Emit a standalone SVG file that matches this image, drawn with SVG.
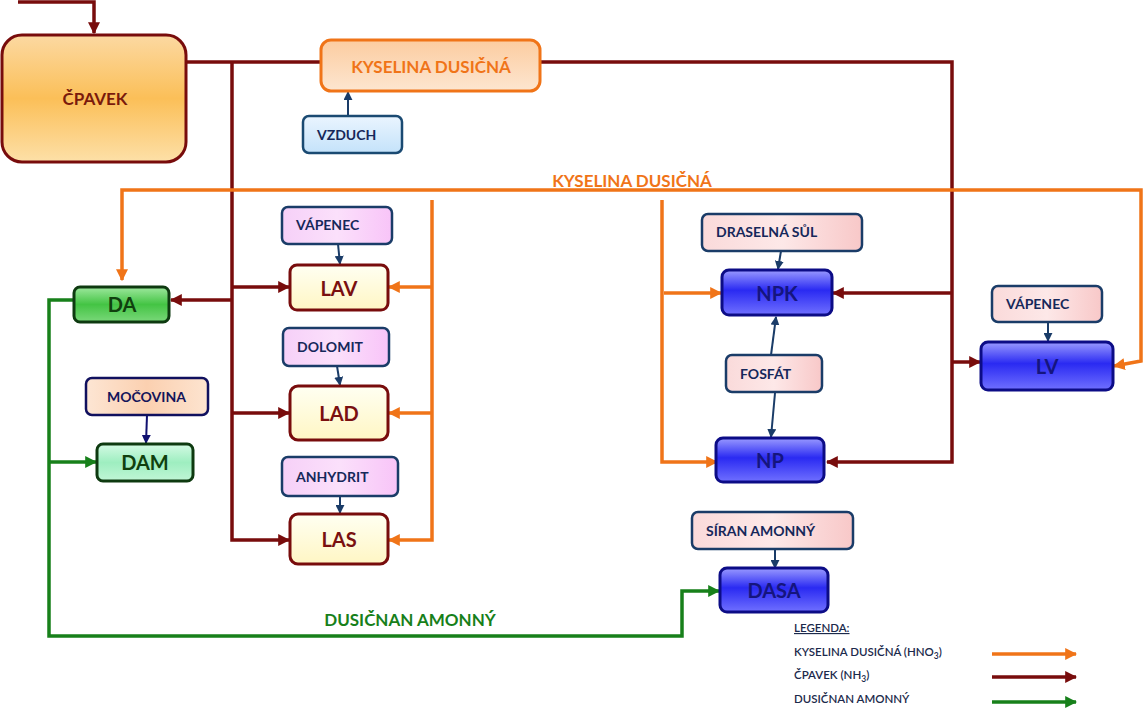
<svg xmlns="http://www.w3.org/2000/svg" width="1144" height="715" viewBox="0 0 1144 715">
<defs>
<style>
.t{font-family:Lato,"Liberation Sans",sans-serif;font-weight:bold;}
.main{font-size:20px;text-anchor:middle;}
.in{font-size:14px;fill:#16285a;}
.leg{font-size:11.5px;fill:#1c2a4c;font-weight:600;}
.cr{fill:none;stroke:#780c0c;stroke-width:3.5;}
.co{fill:none;stroke:#f07418;stroke-width:3.5;}
.cg{fill:none;stroke:#17801a;stroke-width:3.5;}
.cn{fill:none;stroke:#1a3c68;stroke-width:2;}
.big{stroke-width:3;}
.inb{stroke-width:2.5;}
</style>
<linearGradient id="gOr" x1="0" y1="0" x2="0" y2="1"><stop offset="0" stop-color="#fcd9a2"/><stop offset="0.5" stop-color="#fbbf58"/><stop offset="1" stop-color="#fde0a8"/></linearGradient>
<linearGradient id="gKy" x1="0" y1="0" x2="0" y2="1"><stop offset="0" stop-color="#fccca0"/><stop offset="1" stop-color="#fde6d0"/></linearGradient>
<linearGradient id="gSky" x1="0" y1="0" x2="0" y2="1"><stop offset="0" stop-color="#eaf5ff"/><stop offset="1" stop-color="#c4e2fa"/></linearGradient>
<linearGradient id="gYel" x1="0" y1="0" x2="0" y2="1"><stop offset="0" stop-color="#fffff2"/><stop offset="1" stop-color="#fff6c4"/></linearGradient>
<linearGradient id="gPink" x1="0" y1="0" x2="1" y2="0"><stop offset="0" stop-color="#f6d0f8"/><stop offset="0.5" stop-color="#fbe0fb"/><stop offset="1" stop-color="#f8c4f8"/></linearGradient>
<linearGradient id="gSal" x1="0" y1="0" x2="1" y2="0"><stop offset="0" stop-color="#fadada"/><stop offset="0.5" stop-color="#fde8e8"/><stop offset="1" stop-color="#f8c8c8"/></linearGradient>
<linearGradient id="gPeach" x1="0" y1="0" x2="1" y2="0"><stop offset="0" stop-color="#fde6d4"/><stop offset="0.5" stop-color="#fbd0b0"/><stop offset="1" stop-color="#fde4d0"/></linearGradient>
<linearGradient id="gGr" x1="0" y1="0" x2="0" y2="1"><stop offset="0" stop-color="#9ee89e"/><stop offset="0.5" stop-color="#44c444"/><stop offset="1" stop-color="#7ad87a"/></linearGradient>
<linearGradient id="gMint" x1="0" y1="0" x2="0" y2="1"><stop offset="0" stop-color="#d4fae4"/><stop offset="0.5" stop-color="#9eeec0"/><stop offset="1" stop-color="#c0f6d6"/></linearGradient>
<linearGradient id="gBl" x1="0" y1="0" x2="0" y2="1"><stop offset="0" stop-color="#9a9aff"/><stop offset="0.45" stop-color="#2a2af2"/><stop offset="1" stop-color="#7070ff"/></linearGradient>
<marker id="aR" viewBox="0 0 10 10" refX="9" refY="5" markerWidth="12" markerHeight="12" markerUnits="userSpaceOnUse" orient="auto"><path d="M0,0 L10,5 L0,10 z" fill="#780c0c"/></marker>
<marker id="aO" viewBox="0 0 10 10" refX="9" refY="5" markerWidth="12" markerHeight="12" markerUnits="userSpaceOnUse" orient="auto"><path d="M0,0 L10,5 L0,10 z" fill="#f07418"/></marker>
<marker id="aG" viewBox="0 0 10 10" refX="9" refY="5" markerWidth="12" markerHeight="12" markerUnits="userSpaceOnUse" orient="auto"><path d="M0,0 L10,5 L0,10 z" fill="#17801a"/></marker>
<marker id="aN" viewBox="0 0 10 10" refX="9" refY="5" markerWidth="9" markerHeight="9" markerUnits="userSpaceOnUse" orient="auto"><path d="M0,0 L10,5 L0,10 z" fill="#1a3c68"/></marker>
<marker id="aNv" viewBox="0 0 10 10" refX="9" refY="5" markerWidth="9" markerHeight="9" markerUnits="userSpaceOnUse" orient="auto"><path d="M0,0 L10,5 L0,10 z" fill="#101070"/></marker>
</defs>
<rect width="1144" height="715" fill="#ffffff"/>

<g id="connectors">
<!-- ammonia (dark red) -->
<path class="cr" d="M18,2 H94 V33" marker-end="url(#aR)"/>
<path class="cr" d="M186,62 H321"/>
<path class="cr" d="M540,62 H952 V462 H827" marker-end="url(#aR)"/>
<path class="cr" d="M232,62 V540 H289" marker-end="url(#aR)"/>
<path class="cr" d="M232,287 H289" marker-end="url(#aR)"/>
<path class="cr" d="M232,413 H289" marker-end="url(#aR)"/>
<path class="cr" d="M232,300 H171" marker-end="url(#aR)"/>
<path class="cr" d="M952,293 H833" marker-end="url(#aR)"/>
<path class="cr" d="M952,362 H980" marker-end="url(#aR)"/>
<!-- nitric acid (orange) -->
<path class="co" d="M632,190 H122 V280" marker-end="url(#aO)"/>
<path class="co" d="M632,190 H1141 V361 L1114,366" marker-end="url(#aO)"/>
<path class="co" d="M432,200 V540 H389" marker-end="url(#aO)"/>
<path class="co" d="M432,287 H389" marker-end="url(#aO)"/>
<path class="co" d="M432,413 H389" marker-end="url(#aO)"/>
<path class="co" d="M662,200 V462 H717" marker-end="url(#aO)"/>
<path class="co" d="M664,293 H721" marker-end="url(#aO)"/>
<!-- ammonium nitrate (green) -->
<path class="cg" d="M74,300 H49 V636 H682 V591 H719" marker-end="url(#aG)"/>
<path class="cg" d="M49,462 H96" marker-end="url(#aG)"/>
<!-- raw material inputs -->
<path class="cn" d="M348,116 V92" marker-end="url(#aN)"/>
<path class="cn" d="M338,244 L340,264" marker-end="url(#aN)"/>
<path class="cn" d="M337,366 L340,385" marker-end="url(#aN)"/>
<path class="cn" d="M340,496 V513" marker-end="url(#aN)"/>
<path class="cn" d="M147,415 L146,443" stroke="#101070" style="stroke:#101070" marker-end="url(#aNv)"/>
<path class="cn" d="M781,251 L778,269" marker-end="url(#aN)"/>
<path class="cn" d="M771,355 L776,317" marker-end="url(#aN)"/>
<path class="cn" d="M775,393 L771,437" marker-end="url(#aN)"/>
<path class="cn" d="M1048,322 V341" marker-end="url(#aN)"/>
<path class="cn" d="M775,549 V568" marker-end="url(#aN)"/>
<!-- flow labels -->
<text class="t" x="632" y="187" font-size="17" fill="#f07418" text-anchor="middle">KYSELINA DUSIČNÁ</text>
<text class="t" x="410" y="626" font-size="17" fill="#17801a" text-anchor="middle">DUSIČNAN AMONNÝ</text>
</g>

<g id="cpavek">
<rect x="2" y="35" width="184" height="127" rx="20" fill="url(#gOr)" stroke="#780c0c" stroke-width="3"/>
<text class="t" x="95" y="105" font-size="17" fill="#7a1a0c" text-anchor="middle">ČPAVEK</text>
</g>
<g id="kyselina">
<rect x="321" y="40" width="219" height="51" rx="10" fill="url(#gKy)" stroke="#f07418" stroke-width="3"/>
<text class="t" x="431" y="73" font-size="17" fill="#f07418" text-anchor="middle">KYSELINA DUSIČNÁ</text>
</g>
<g id="vzduch">
<rect x="303" y="116" width="99" height="37" rx="6" fill="url(#gSky)" stroke="#1a4a72" stroke-width="2.5"/>
<text class="t in" x="317" y="140">VZDUCH</text>
</g>

<g id="da">
<rect x="74" y="287" width="95" height="35" rx="6" fill="url(#gGr)" stroke="#0e3a10" stroke-width="3"/>
<text class="t main" x="122" y="312" fill="#10400e">DA</text>
</g>
<g id="mocovina">
<rect x="86" y="378" width="122" height="37" rx="6" fill="url(#gPeach)" stroke="#10105e" stroke-width="2.5"/>
<text class="t in" x="107" y="402" fill="#14145a" style="fill:#14145a">MOČOVINA</text>
</g>
<g id="dam">
<rect x="97" y="444" width="96" height="37" rx="6" fill="url(#gMint)" stroke="#0e3a10" stroke-width="3"/>
<text class="t main" x="145" y="470" fill="#10400e">DAM</text>
</g>

<g id="vapenec1">
<rect x="282" y="207" width="110" height="37" rx="6" fill="url(#gPink)" stroke="#1a3c68" stroke-width="2.5"/>
<text class="t in" x="296" y="230">VÁPENEC</text>
</g>
<g id="lav">
<rect x="290" y="265" width="98" height="45" rx="7" fill="url(#gYel)" stroke="#780c0c" stroke-width="3"/>
<text class="t main" x="339" y="296" fill="#7a1010" font-size="21">LAV</text>
</g>
<g id="dolomit">
<rect x="283" y="328" width="106" height="38" rx="6" fill="url(#gPink)" stroke="#1a3c68" stroke-width="2.5"/>
<text class="t in" x="297" y="352">DOLOMIT</text>
</g>
<g id="lad">
<rect x="290" y="386" width="98" height="54" rx="8" fill="url(#gYel)" stroke="#780c0c" stroke-width="3"/>
<text class="t main" x="339" y="421" fill="#7a1010" font-size="21">LAD</text>
</g>
<g id="anhydrit">
<rect x="282" y="457" width="116" height="39" rx="6" fill="url(#gPink)" stroke="#1a3c68" stroke-width="2.5"/>
<text class="t in" x="296" y="482">ANHYDRIT</text>
</g>
<g id="las">
<rect x="290" y="514" width="98" height="50" rx="8" fill="url(#gYel)" stroke="#780c0c" stroke-width="3"/>
<text class="t main" x="339" y="547" fill="#7a1010" font-size="21">LAS</text>
</g>

<g id="draselna">
<rect x="702" y="214" width="160" height="37" rx="6" fill="url(#gSal)" stroke="#1a3c68" stroke-width="2.5"/>
<text class="t in" x="716" y="237">DRASELNÁ SŮL</text>
</g>
<g id="npk">
<rect x="722" y="270" width="110" height="45" rx="7" fill="url(#gBl)" stroke="#0c0c86" stroke-width="3"/>
<text class="t main" x="777" y="301" fill="#15157e">NPK</text>
</g>
<g id="fosfat">
<rect x="726" y="355" width="96" height="37" rx="6" fill="url(#gSal)" stroke="#1a3c68" stroke-width="2.5"/>
<text class="t in" x="740" y="379">FOSFÁT</text>
</g>
<g id="np">
<rect x="716" y="438" width="108" height="44" rx="7" fill="url(#gBl)" stroke="#0c0c86" stroke-width="3"/>
<text class="t main" x="770" y="468" fill="#15157e">NP</text>
</g>
<g id="vapenec2">
<rect x="992" y="286" width="110" height="36" rx="6" fill="url(#gSal)" stroke="#1a3c68" stroke-width="2.5"/>
<text class="t in" x="1006" y="309">VÁPENEC</text>
</g>
<g id="lv">
<rect x="981" y="342" width="132" height="48" rx="7" fill="url(#gBl)" stroke="#0c0c86" stroke-width="3"/>
<text class="t main" x="1047" y="374" fill="#15157e">LV</text>
</g>
<g id="siran">
<rect x="692" y="512" width="161" height="37" rx="6" fill="url(#gSal)" stroke="#1a3c68" stroke-width="2.5"/>
<text class="t in" x="706" y="536">SÍRAN AMONNÝ</text>
</g>
<g id="dasa">
<rect x="720" y="568" width="108" height="44" rx="7" fill="url(#gBl)" stroke="#0c0c86" stroke-width="3"/>
<text class="t main" x="774" y="598" fill="#15157e">DASA</text>
</g>

<g id="legend">
<text class="t leg" x="794" y="632" text-decoration="underline">LEGENDA:</text>
<text class="t leg" x="794" y="656">KYSELINA DUSIČNÁ  (HNO<tspan font-size="8.5" dy="3">3</tspan><tspan dy="-3">)</tspan></text>
<text class="t leg" x="794" y="679">ČPAVEK (NH<tspan font-size="8.5" dy="3">3</tspan><tspan dy="-3">)</tspan></text>
<text class="t leg" x="794" y="703">DUSIČNAN AMONNÝ</text>
<path class="co" d="M992,654 H1076" marker-end="url(#aO)"/>
<path class="cr" d="M992,677 H1076" marker-end="url(#aR)"/>
<path class="cg" d="M992,702 H1076" marker-end="url(#aG)"/>
</g>
</svg>
